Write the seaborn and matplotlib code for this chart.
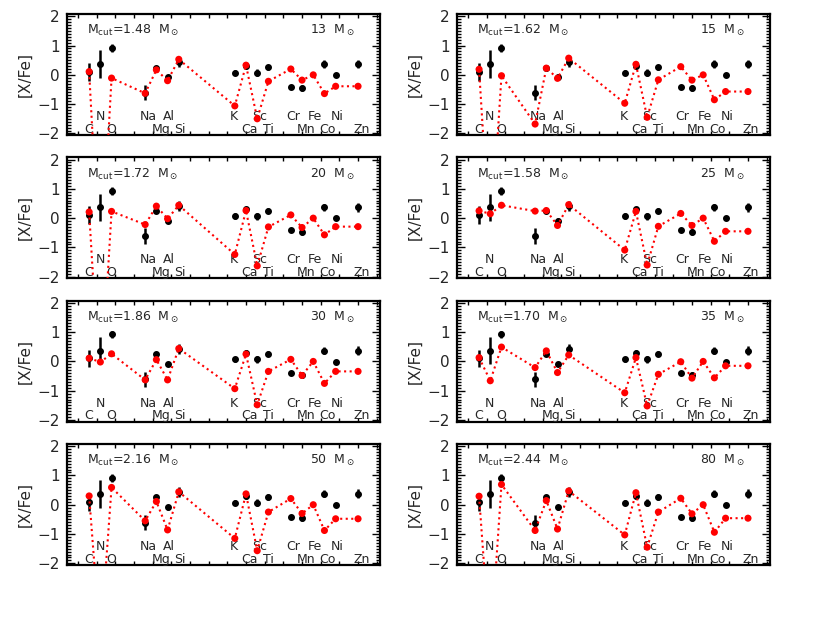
import numpy as np
import matplotlib
matplotlib.use("Agg")
import matplotlib.pyplot as plt
from matplotlib.ticker import MultipleLocator
import seaborn as sns

sns.set_style("white")
plt.rcParams['font.family'] = ['DejaVu Sans']
plt.rcParams['mathtext.fontset'] = 'dejavusans'

# elements and atomic numbers
elements = ["C", "N", "O", "Na", "Mg", "Al", "Si", "K", "Ca", "Sc", "Ti",
            "Cr", "Mn", "Fe", "Co", "Ni", "Zn"]
z_num = [6, 7, 8, 11, 12, 13, 14, 19, 20, 21, 22, 24, 25, 26, 27, 28, 30]

# observed [X/Fe] with errors (Fe is the reference, not plotted)
obs_xfe = [0.10, 0.37, 0.92, -0.61, 0.25, -0.09, 0.43, 0.07, 0.30, 0.07, 0.26,
           -0.41, -0.46, np.nan, 0.37, -0.01, 0.37]
obs_err = [0.30, 0.47, 0.13, 0.26, 0.05, 0.08, 0.17, 0.09, 0.09, 0.12, 0.09,
           0.04, 0.10, np.nan, 0.12, 0.07, 0.15]

# model yields per progenitor mass
masses = [13, 15, 20, 25, 30, 35, 50, 80]
mcut = [1.48, 1.62, 1.72, 1.58, 1.86, 1.70, 2.16, 2.44]
model_13 = [0.11, -7.0, -0.11, -0.63, 0.17, -0.20, 0.53, -1.06, 0.33, -1.50, -0.22,
            0.20, -0.18, 0.0, -0.64, -0.39, -0.39]
model_15 = [0.19, -6.0, -0.03, -1.68, 0.23, -0.12, 0.57, -0.97, 0.36, -1.45, -0.17,
            0.28, -0.18, 0.0, -0.85, -0.57, -0.57]
model_20 = [0.21, -6.2, 0.23, -0.22, 0.41, -0.02, 0.44, -1.24, 0.26, -1.63, -0.30,
            0.11, -0.32, 0.0, -0.57, -0.29, -0.29]
model_25 = [0.25, 0.15, 0.44, 0.24, 0.26, -0.25, 0.46, -1.09, 0.23, -1.60, -0.28,
            0.16, -0.25, 0.0, -0.79, -0.45, -0.45]
model_30 = [0.11, -0.02, 0.26, -0.63, 0.06, -0.63, 0.44, -0.93, 0.25, -1.48, -0.34,
            0.07, -0.48, 0.0, -0.75, -0.34, -0.34]
model_35 = [0.13, -0.66, 0.49, -0.21, 0.36, -0.38, 0.22, -1.07, 0.13, -1.52, -0.44,
            -0.01, -0.57, 0.0, -0.56, -0.15, -0.15]
model_50 = [0.30, -4.7, 0.59, -0.55, 0.11, -0.86, 0.44, -1.15, 0.37, -1.57, -0.25,
            0.21, -0.30, 0.0, -0.88, -0.48, -0.48]
model_80 = [0.29, -5.0, 0.69, -0.88, 0.14, -0.83, 0.47, -1.03, 0.41, -1.45, -0.25,
            0.22, -0.31, 0.0, -0.94, -0.46, -0.46]
models = [model_13, model_15, model_20, model_25, model_30, model_35, model_50, model_80]

fig = plt.figure(figsize=(8.3, 6.23), dpi=100)

col_left = [0.0804, 0.5502]
row_bottom = [0.783, 0.553, 0.323, 0.093]
ax_w, ax_h = 0.378, 0.1942

for i, (mass, mc, model) in enumerate(zip(masses, mcut, models)):
    r, c = divmod(i, 2)
    ax = fig.add_axes([col_left[c], row_bottom[r], ax_w, ax_h])

    # observations
    ax.errorbar(z_num, obs_xfe, yerr=obs_err, fmt='o', color='black',
                markersize=4, elinewidth=1.8, capsize=0, zorder=3)
    # model
    sns.lineplot(x=z_num, y=model, ax=ax, color='red', linestyle=':',
                 linewidth=1.5, sort=False, zorder=4)
    sns.scatterplot(x=z_num, y=model, ax=ax, color='red', s=26,
                    edgecolor='none', zorder=5)

    # element labels in two rows
    for j, (el, zz) in enumerate(zip(elements, z_num)):
        yy = -1.42 if j % 2 else -1.86
        ax.text(zz - 0.45, yy, el, ha='left', va='center', fontsize=9)

    ax.text(5.85, 1.5, r"M$_{\rm cut}$=%.2f  M$_\odot$" % mc, ha='left',
            va='center', fontsize=9)
    ax.text(29.7, 1.5, r"%d  M$_\odot$" % mass, ha='right', va='center',
            fontsize=9)

    ax.set_xlim(4, 32)
    ax.set_ylim(-2.06, 2.07)
    ax.yaxis.set_major_locator(MultipleLocator(1))
    ax.yaxis.set_minor_locator(MultipleLocator(0.1))
    ax.xaxis.set_major_locator(MultipleLocator(5))
    ax.xaxis.set_minor_locator(MultipleLocator(5 / 3))
    ax.tick_params(which='both', direction='in', top=True, right=True,
                   bottom=True, left=True, width=1, color='black')
    ax.tick_params(which='major', length=6, labelsize=11, pad=5)
    ax.tick_params(which='minor', length=3)
    ax.tick_params(axis='x', which='major', length=3)
    ax.set_xticklabels([])
    ax.set_ylabel("[X/Fe]", fontsize=11)
    ax.yaxis.set_label_coords(-0.11, 0.5)
    for sp in ax.spines.values():
        sp.set_linewidth(1.6)
        sp.set_color('black')

fig.savefig("out.png", dpi=100)
